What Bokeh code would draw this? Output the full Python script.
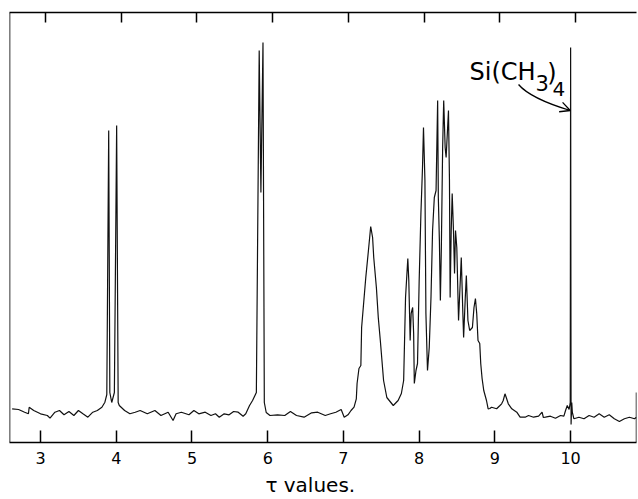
from bokeh.plotting import figure
from bokeh.models import Range1d, LinearAxis, FixedTicker, Span, Label, Arrow, OpenHead
from bokeh.embed import file_html
from bokeh.resources import INLINE

# ---- data (tau values vs. recorder deflection) ----
tick_values = [3, 4, 5, 6, 7, 8, 9, 10]

tau = [
    2.625, 2.71, 2.79, 2.84, 2.85, 2.91, 3.0, 3.09, 3.125, 3.19, 3.25, 3.31, 3.375, 3.44,
    3.5, 3.56, 3.625, 3.69, 3.75, 3.81, 3.85,
    3.875, 3.90, 3.915, 3.94, 3.975, 4.005, 4.025, 4.04,
    4.11, 4.18, 4.25, 4.315, 4.41, 4.51, 4.59, 4.685, 4.75, 4.79, 4.86, 4.96, 5.025, 5.09,
    5.175, 5.25, 5.31, 5.36, 5.425, 5.49, 5.55, 5.61, 5.675, 5.71, 5.76, 5.80, 5.85,
    5.8875, 5.91, 5.9375, 5.955, 5.98,
    6.03, 6.13, 6.225, 6.30, 6.38, 6.48, 6.58, 6.66, 6.76, 6.83, 6.90, 6.97, 7.01, 7.06,
    7.10, 7.14, 7.17,
    7.18, 7.205, 7.23, 7.24, 7.295, 7.33, 7.36, 7.385, 7.40, 7.435, 7.46,
    7.487, 7.53, 7.573, 7.658, 7.722, 7.765, 7.795, 7.82, 7.85, 7.863, 7.881, 7.894, 7.914,
    7.927, 7.936, 7.958, 7.978, 8.0, 8.023, 8.044, 8.057, 8.076, 8.089, 8.11, 8.133, 8.156,
    8.177, 8.2, 8.223, 8.244, 8.253, 8.267, 8.28, 8.293, 8.31, 8.324, 8.343, 8.356, 8.387,
    8.4, 8.409, 8.423, 8.436, 8.453, 8.467, 8.48, 8.497, 8.52, 8.543, 8.556, 8.577, 8.587,
    8.609, 8.623, 8.644, 8.667, 8.703, 8.724, 8.743, 8.76, 8.777, 8.8, 8.813, 8.831, 8.853,
    8.889, 8.911, 8.933, 8.956, 9.023, 9.067, 9.089, 9.11, 9.133, 9.15, 9.177, 9.223, 9.289,
    9.333, 9.4, 9.444, 9.511, 9.577, 9.623, 9.64, 9.667, 9.733, 9.8, 9.867, 9.911, 9.933,
    9.956, 9.98, 9.995, 10.0, 10.006, 10.015, 10.023, 10.044, 10.11, 10.177, 10.244, 10.31,
    10.377, 10.444, 10.51, 10.577, 10.644, 10.71, 10.777, 10.844, 10.87,
]

intensity = [
    33.7, 33, 30.3, 28.7, 35.3, 32, 28.7, 27, 24.3, 30.3, 32, 27.7, 31, 27,
    32, 28.7, 25.3, 30.3, 32, 35.3, 40.3,
    48, 312, 50, 40, 50, 317, 40, 37,
    32, 28.7, 30.3, 32, 28.7, 32, 27, 30.3, 22, 28.7, 30.3, 27.7, 32, 28.7,
    30.3, 27, 28.7, 25.3, 28.7, 27.7, 31, 30.3, 26.3, 28.7, 37, 42, 50,
    392, 250, 400, 40, 30,
    27, 27.7, 27, 31, 27, 25.3, 29.7, 30.3, 27, 28.7, 30.3, 33, 25.3, 27.7,
    32, 35.3, 43.7,
    59, 74, 77, 115, 165, 192, 216, 205, 185, 155, 125,
    102, 62, 45, 37, 42, 49, 62, 145, 184, 162, 102, 129, 135,
    109, 59, 72, 79, 162, 229, 275, 315, 262, 129, 72, 95, 145,
    212, 245, 252, 342, 245, 202, 142, 195, 295, 342, 295, 285, 332,
    262, 145, 212, 249, 212, 169, 212, 195, 122, 162, 185, 129, 105,
    145, 167, 122, 112, 115, 135, 144, 129, 102, 99, 79, 64, 52,
    42, 33.7, 34, 35.3, 33.7, 37, 38.7, 42, 48.7, 45, 38.7, 33.7, 30.3,
    25.3, 25.3, 27, 25.3, 26.3, 30.3, 25, 25.3, 26.3, 24.3, 27, 26.3, 32,
    37, 33, 40, 395, 18, 40, 30, 23.7, 25.3, 23.7, 27, 25.3,
    28.7, 25.3, 27.7, 23.7, 21, 23.7, 25.3, 23.7, 25.3,
]

edge_tau = [10.87, 10.87]
edge_intensity = [0, 50]

label_texts = ["Si(CH", "3", ")", "4"]
label_tau = [8.665, 9.535, 9.69, 9.76]
label_intensity = [371, 360, 370, 354]
label_sizes = ["24px", "21px", "24px", "20px"]

arrow_start = (9.312, 358)
arrow_ctrl = (9.47, 344)
arrow_end = (9.995, 332)

FONT = "DejaVu Sans"

p = figure(width=638, height=499,
           x_range=Range1d(2.59, 10.87), y_range=Range1d(0, 430),
           output_backend="svg", toolbar_location=None,
           y_axis_location=None,
           min_border_left=9, min_border_right=2,
           min_border_top=12, min_border_bottom=57)
p.grid.visible = False
p.outline_line_color = None
p.background_fill_color = "white"

# bottom axis
ax = p.xaxis[0]
ax.ticker = FixedTicker(ticks=tick_values)
ax.minor_tick_line_color = None
ax.major_tick_in = 12
ax.major_tick_out = 0
ax.major_tick_line_width = 1.5
ax.axis_line_width = 1.6
ax.major_label_text_font = FONT
ax.major_label_text_font_size = "16px"
ax.major_label_text_color = "black"
ax.major_label_standoff = 9
ax.axis_label = "τ values.\u00a0\u00a0\u00a0\u00a0"
ax.axis_label_text_font = FONT
ax.axis_label_text_font_size = "20px"
ax.axis_label_text_font_style = "normal"
ax.axis_label_text_color = "black"
ax.axis_label_standoff = 6

# top axis (ticks only, printed slightly offset)
p.extra_x_ranges = {"top": Range1d(2.59 - 0.066, 10.87 - 0.066)}
top = LinearAxis(x_range_name="top", ticker=FixedTicker(ticks=tick_values))
top.minor_tick_line_color = None
top.major_tick_in = 10
top.major_tick_out = 0
top.major_tick_line_width = 1.5
top.axis_line_width = 1.6
top.major_label_overrides = {t: "" for t in tick_values}
top.major_label_text_font_size = "2px"
top.major_label_standoff = 0
p.add_layout(top, "above")

# left border
p.add_layout(Span(location=2.59, dimension="height", line_color="black", line_width=1.6))

# spectrum trace
p.line(tau, intensity, line_color="#111111", line_width=1.2)
p.line(edge_tau, edge_intensity, line_color="#111111", line_width=1.5)

# Si(CH3)4 label
for t, x, y, s in zip(label_texts, label_tau, label_intensity, label_sizes):
    p.add_layout(Label(x=x, y=y, text=t, text_font=FONT, text_font_size=s,
                       text_baseline="alphabetic", text_align="left", text_color="black"))

p.quadratic(x0=[arrow_start[0]], y0=[arrow_start[1]], x1=[arrow_end[0]], y1=[arrow_end[1]],
            cx=[arrow_ctrl[0]], cy=[arrow_ctrl[1]], line_color="black", line_width=1.3)
p.add_layout(Arrow(end=OpenHead(size=10, line_width=1.3, line_color="black"),
                   x_start=arrow_end[0] - 0.036, y_start=arrow_end[1] + 1.0,
                   x_end=arrow_end[0], y_end=arrow_end[1], line_width=1.3, line_color="black"))

open("out.html", "w").write(file_html(p, INLINE))
